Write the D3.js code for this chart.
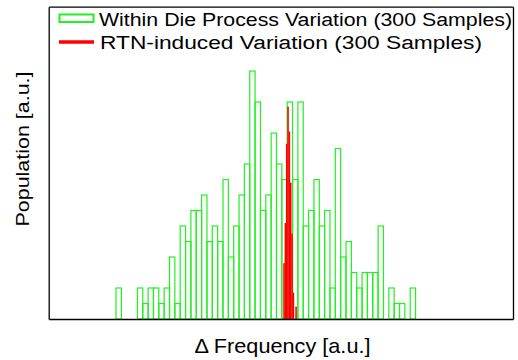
<!DOCTYPE html>
<meta charset="utf-8">
<style>
body { margin: 0; background: #fff; }
text { font-family: "Liberation Sans", Arial, Helvetica, sans-serif; fill: #000; }
.frame path { stroke: #000; stroke-width: 1.3px; }
.green { fill: none; stroke: #22f022; stroke-width: 1.2px; }
.red { fill: #ff0000; stroke: none; }
</style>
<body>
<script src="https://d3js.org/d3.v7.min.js"></script>
<script>

const width = 518;
const height = 360;

// within-die process variation histogram (counts per bin)
const greenStart = -1.775;
const greenWidth = 0.0576;
const greenCounts = [2, 0, 0, 0, 2, 1, 2, 2, 1, 2,
                     4, 1, 6, 5, 7, 7, 8, 5, 6, 5,
                     9, 4, 6, 8, 10, 16, 14, 7, 8, 12,
                     10, 9, 14, 9, 14, 6, 7, 9, 6, 7,
                     2, 11, 4, 5, 3, 2, 3, 3, 3, 6,
                     0, 2, 1, 1, 0, 2];

// RTN-induced variation histogram
const redStart = 0.026;
const redWidth = 0.0144;
const redCounts = [3.6, 6.2, 11.3, 13.7, 12.1, 8.8, 5.5, 1.7, 0, 0.8];

const legendLabels = ["Within Die Process Variation (300 Samples)",
                      "RTN-induced Variation (300 Samples)"];

const margin = {top: 6.7, right: 5, bottom: 41, left: 48.7};
const innerW = width - margin.left - margin.right;
const innerH = height - margin.top - margin.bottom;

const x = d3.scaleLinear().domain([-2.5, 2.5]).range([0, innerW]);
const y = d3.scaleLinear().domain([0, 20.15]).range([innerH, 0]);

const svg = d3.select("body").append("svg")
    .attr("width", width)
    .attr("height", height);

const g = svg.append("g")
    .attr("transform", `translate(${margin.left},${margin.top})`);

const greenBins = greenCounts.map((c, i) => ({x0: greenStart + i * greenWidth, x1: greenStart + (i + 1) * greenWidth, c}))
    .filter(d => d.c > 0);
const redBins = redCounts.map((c, i) => ({x0: redStart + i * redWidth, x1: redStart + (i + 1) * redWidth, c}))
    .filter(d => d.c > 0);

g.selectAll(".green")
    .data(greenBins)
  .enter().append("rect")
    .attr("class", "green")
    .attr("x", d => x(d.x0))
    .attr("width", d => x(d.x1) - x(d.x0))
    .attr("y", d => y(d.c))
    .attr("height", d => y(0) - y(d.c));

g.selectAll(".red")
    .data(redBins)
  .enter().append("rect")
    .attr("class", "red")
    .attr("x", d => x(d.x0))
    .attr("width", d => x(d.x1) - x(d.x0) + 0.2)
    .attr("y", d => y(d.c))
    .attr("height", d => y(0) - y(d.c));

// box made of tickless axes
g.append("g").attr("class", "frame")
    .attr("transform", `translate(0,${innerH})`)
    .call(d3.axisBottom(x).tickValues([]).tickSizeOuter(0));
g.append("g").attr("class", "frame")
    .call(d3.axisTop(x).tickValues([]).tickSizeOuter(0));
g.append("g").attr("class", "frame")
    .call(d3.axisLeft(y).tickValues([]).tickSizeOuter(0));
g.append("g").attr("class", "frame")
    .attr("transform", `translate(${innerW},0)`)
    .call(d3.axisRight(y).tickValues([]).tickSizeOuter(0));

// legend
const legend = svg.append("g");
legend.append("rect")
    .attr("x", 59.5).attr("y", 14.5)
    .attr("width", 34).attr("height", 7.5)
    .attr("fill", "none")
    .attr("stroke", "#22f022")
    .attr("stroke-width", 2);
legend.append("line")
    .attr("x1", 59).attr("x2", 94)
    .attr("y1", 42).attr("y2", 42)
    .attr("stroke", "#ff0000")
    .attr("stroke-width", 3.5);
legend.append("text")
    .attr("x", 99).attr("y", 25.5)
    .style("font-size", "18px")
    .attr("textLength", 413)
    .attr("lengthAdjust", "spacingAndGlyphs")
    .text(legendLabels[0]);
legend.append("text")
    .attr("x", 100).attr("y", 49)
    .style("font-size", "18px")
    .attr("textLength", 382)
    .attr("lengthAdjust", "spacingAndGlyphs")
    .text(legendLabels[1]);

// axis titles
svg.append("text")
    .attr("x", 194.5).attr("y", 353)
    .style("font-size", "21px")
    .attr("textLength", 176)
    .attr("lengthAdjust", "spacingAndGlyphs")
    .text("Δ Frequency [a.u.]");

svg.append("text")
    .attr("transform", "translate(28.5,226.5) rotate(-90)")
    .style("font-size", "17.5px")
    .attr("textLength", 155)
    .attr("lengthAdjust", "spacingAndGlyphs")
    .text("Population [a.u.]");

</script>
</body>
